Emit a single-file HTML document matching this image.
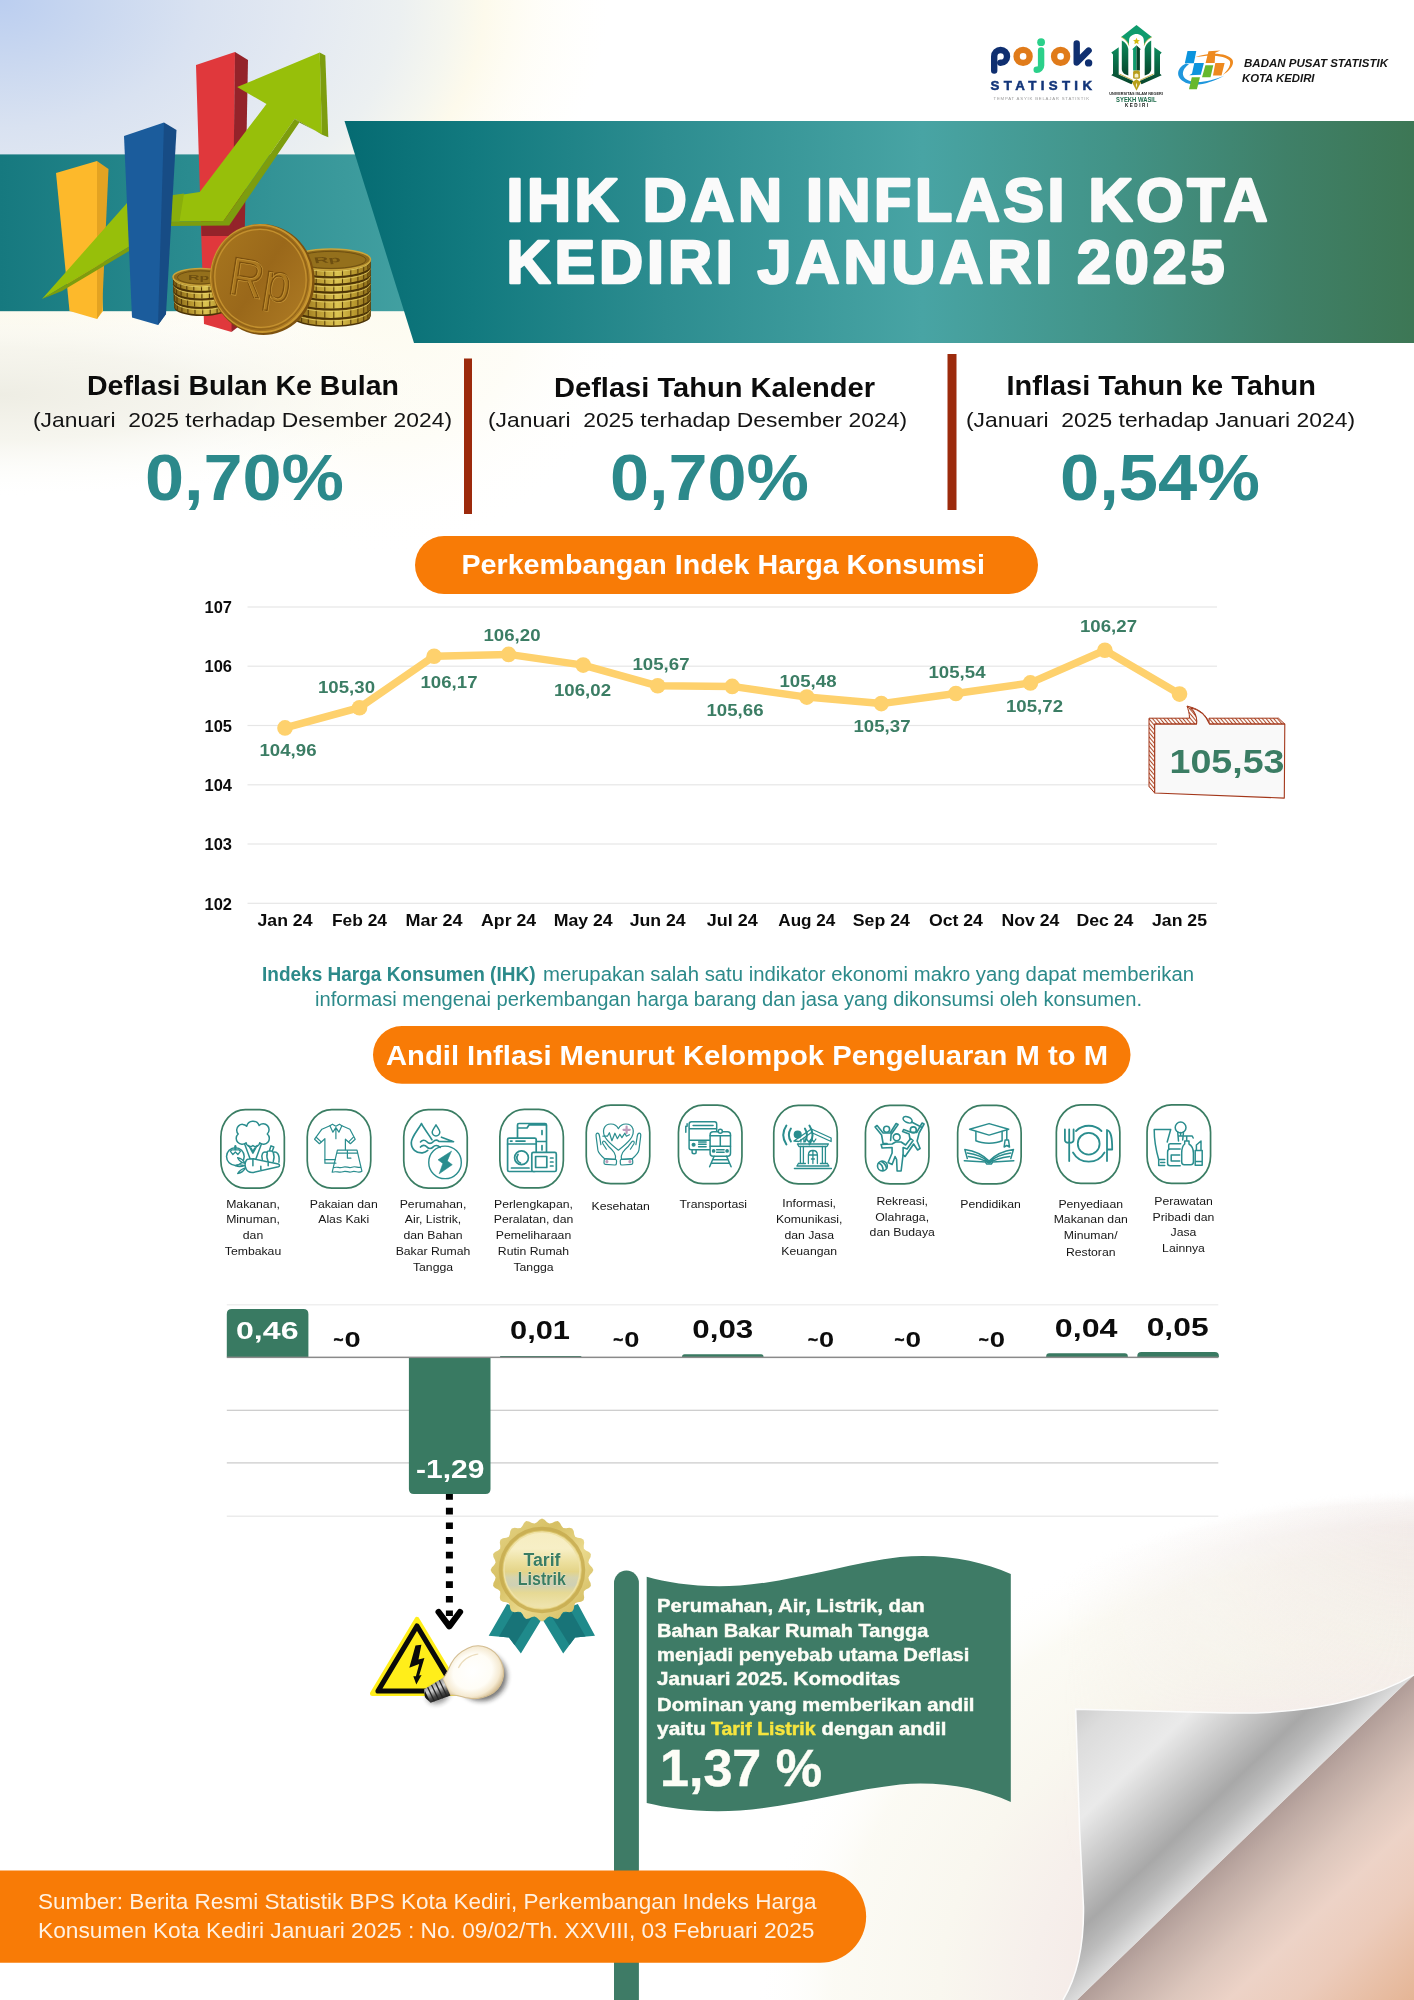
<!DOCTYPE html>
<html lang="id"><head><meta charset="utf-8"><title>IHK dan Inflasi Kota Kediri Januari 2025</title>
<style>
html,body{margin:0;padding:0;background:#fff;}
body{width:1414px;height:2000px;overflow:hidden;font-family:"Liberation Sans",sans-serif;}
svg{display:block;position:absolute;left:0;top:0;will-change:transform;}
text{font-family:"Liberation Sans",sans-serif;}
.b{font-weight:bold;}
</style></head><body>
<svg width="1414" height="2000" viewBox="0 0 1414 2000">
<defs>
  <radialGradient id="bgTL" cx="0" cy="0" r="610" gradientUnits="userSpaceOnUse" gradientTransform="scale(1 0.64)">
    <stop offset="0" stop-color="#bbcef0"/>
    <stop offset="0.164" stop-color="#cad8f0"/>
    <stop offset="0.328" stop-color="#d9e2f1"/>
    <stop offset="0.492" stop-color="#e3e9f2"/>
    <stop offset="0.656" stop-color="#ecf0f1"/>
    <stop offset="0.738" stop-color="#f5f6ef"/>
    <stop offset="0.795" stop-color="#fdfaec"/>
    <stop offset="0.885" stop-color="#fefcf2" stop-opacity="0.55"/>
    <stop offset="1" stop-color="#fffef8" stop-opacity="0"/>
  </radialGradient>
  <radialGradient id="bgCream" cx="380" cy="300" r="260" gradientUnits="userSpaceOnUse">
    <stop offset="0" stop-color="#fdfbee" stop-opacity="0.9"/>
    <stop offset="0.55" stop-color="#fdfbf0" stop-opacity="0.55"/>
    <stop offset="1" stop-color="#ffffff" stop-opacity="0"/>
  </radialGradient>
  <radialGradient id="bgLeft" cx="0" cy="395" r="100" gradientUnits="userSpaceOnUse" gradientTransform="translate(0 395) scale(4.6 1) translate(0 -395)">
    <stop offset="0" stop-color="#ebeadf" stop-opacity="0.85"/>
    <stop offset="0.45" stop-color="#f2f1e7" stop-opacity="0.7"/>
    <stop offset="1" stop-color="#fdfdf8" stop-opacity="0"/>
  </radialGradient>
</defs>
<rect width="1414" height="2000" fill="#ffffff"/>
<rect width="1414" height="700" fill="url(#bgCream)"/>
<rect width="1414" height="700" fill="url(#bgTL)"/>
<rect width="700" height="700" fill="url(#bgLeft)"/>

<defs>
  <radialGradient id="paperBlob" cx="1414" cy="2000" r="660" gradientUnits="userSpaceOnUse" gradientTransform="translate(1414 2000) scale(1 0.7727) translate(-1414 -2000)">
    <stop offset="0" stop-color="#f0dcd6"/>
    <stop offset="0.4" stop-color="#f3e7e4"/>
    <stop offset="0.58" stop-color="#f6efeb"/>
    <stop offset="0.72" stop-color="#f9f7ef"/>
    <stop offset="0.88" stop-color="#fbfaf3" stop-opacity="0.9"/>
    <stop offset="1" stop-color="#ffffff" stop-opacity="0"/>
  </radialGradient>
  <radialGradient id="paperRing" cx="1414" cy="2000" r="660" gradientUnits="userSpaceOnUse" gradientTransform="translate(1414 2000) scale(1 0.7727) translate(-1414 -2000)">
    <stop offset="0.55" stop-color="#e9dcd9" stop-opacity="0"/>
    <stop offset="0.8" stop-color="#eadedb" stop-opacity="0.4"/>
    <stop offset="0.93" stop-color="#ebe0dd" stop-opacity="0.62"/>
    <stop offset="0.975" stop-color="#eee5e2" stop-opacity="0.4"/>
    <stop offset="1" stop-color="#ffffff" stop-opacity="0"/>
  </radialGradient>
  <linearGradient id="ringMaskG" x1="1060" y1="0" x2="1414" y2="0" gradientUnits="userSpaceOnUse">
    <stop offset="0" stop-color="#000"/>
    <stop offset="0.45" stop-color="#666"/>
    <stop offset="1" stop-color="#fff"/>
  </linearGradient>
  <mask id="ringMask" maskUnits="userSpaceOnUse" x="700" y="1450" width="714" height="550"><rect x="700" y="1450" width="714" height="550" fill="url(#ringMaskG)"/></mask>
  <linearGradient id="curlG" x1="1075.700" y1="1709.200" x2="1221.600" y2="1860.500" gradientUnits="userSpaceOnUse">
    <stop offset="0" stop-color="#cdcdcd"/>
    <stop offset="0.12" stop-color="#dcdcdc"/>
    <stop offset="0.39" stop-color="#eaeaea"/>
    <stop offset="0.6" stop-color="#c6c6c6"/>
    <stop offset="0.77" stop-color="#a8a8a8"/>
    <stop offset="0.88" stop-color="#bcbcbc"/>
    <stop offset="1" stop-color="#dedede"/>
  </linearGradient>
  <linearGradient id="underG" x1="1245.500" y1="1837.500" x2="1407.900" y2="2006" gradientUnits="userSpaceOnUse">
    <stop offset="0" stop-color="#b09c97"/>
    <stop offset="0.1" stop-color="#c2aea7"/>
    <stop offset="0.28" stop-color="#dcc6bc"/>
    <stop offset="0.45" stop-color="#edd3c7"/>
    <stop offset="0.65" stop-color="#ecccbc"/>
    <stop offset="1" stop-color="#e5b595"/>
  </linearGradient>
  <filter id="blur8" x="-20%" y="-20%" width="140%" height="140%"><feGaussianBlur stdDeviation="8"/></filter>
  <filter id="blur3" x="-20%" y="-20%" width="140%" height="140%"><feGaussianBlur stdDeviation="2.500"/></filter>
</defs>
<g id="paper">
  <rect x="700" y="1450" width="714" height="550" fill="url(#paperBlob)"/>
  <rect x="700" y="1450" width="714" height="550" fill="url(#paperRing)" mask="url(#ringMask)"/>
  <!-- under curl -->
  <polygon points="1414,1675 1414,2000 1077,2000" fill="url(#underG)"/>
  <!-- curl -->
  <path d="M1075.700,1709.200 L1230,1713 C1300,1714 1365,1703 1414,1675 L1077,2000 L1063,2000 C1078,1975 1084,1945 1083.500,1907 L1079.600,1830 Z" fill="url(#curlG)"/>
  <path d="M1063,2000 C1078,1975 1084,1945 1083.500,1907 L1079.600,1830 L1075.700,1709.200 L1230,1713 C1300,1714 1365,1703 1414,1675" fill="none" stroke="#fcfcfc" stroke-width="1.500"/>
</g>
<defs>
  <linearGradient id="bandL" x1="0" y1="0" x2="420" y2="0" gradientUnits="userSpaceOnUse">
    <stop offset="0" stop-color="#16797f"/>
    <stop offset="0.45" stop-color="#2a8b8f"/>
    <stop offset="1" stop-color="#43a1a2"/>
  </linearGradient>
  <linearGradient id="bandR" x1="345" y1="0" x2="1414" y2="0" gradientUnits="userSpaceOnUse">
    <stop offset="0" stop-color="#056b72"/>
    <stop offset="0.12" stop-color="#127a7f"/>
    <stop offset="0.3" stop-color="#2d8d90"/>
    <stop offset="0.54" stop-color="#48a4a4"/>
    <stop offset="0.72" stop-color="#429387"/>
    <stop offset="0.88" stop-color="#3f8068"/>
    <stop offset="1" stop-color="#3d7755"/>
  </linearGradient>
  <linearGradient id="coinG" x1="0" y1="0" x2="1" y2="1">
    <stop offset="0" stop-color="#a9781f"/>
    <stop offset="0.5" stop-color="#9a681a"/>
    <stop offset="1" stop-color="#b07d25"/>
  </linearGradient>
  <linearGradient id="stackG" x1="0" y1="0" x2="1" y2="0">
    <stop offset="0" stop-color="#7a5a12"/>
    <stop offset="0.3" stop-color="#b6952e"/>
    <stop offset="0.58" stop-color="#dcc452"/>
    <stop offset="0.8" stop-color="#b8982e"/>
    <stop offset="1" stop-color="#8a6a18"/>
  </linearGradient>
</defs>
<!-- left band -->
<rect x="0" y="154.400" width="430" height="156.800" fill="url(#bandL)"/>
<!-- right trapezoid -->
<polygon points="344.5,121 1414,121 1414,343 414,343" fill="url(#bandR)"/>

<!-- illustration: bars, arrow, coins -->
<g id="illus">
  <!-- yellow bar -->
  <polygon points="56,173 97,161 103,311 97,319 69.5,311" fill="#fdb92b"/>
  <polygon points="97,161 108.5,169 102,311 97,319" fill="#e3a322"/>
  <!-- red bar -->
  <polygon points="196,65 235,52 233,324 231.5,332 204,324" fill="#e0383c"/>
  <polygon points="235,52 248,60 243,323 231.5,332" fill="#94232a"/>
  <polygon points="200.5,200 234,196 233.6,236 201.5,236" fill="#94232a"/>
  <!-- arrow -->
  <polygon points="42,299 127,203 199.700,192 266.500,104 237.100,87.100 319.700,52.400 322,134.600 294.800,118.800 223.500,221 171,221.500" fill="#97bf0a"/>
  <polygon points="42,299 171,221.500 223.500,221 294.800,118.800 299.300,122.600 229.200,225.500 171,226 62,291" fill="#7d9d0e"/>
  <polygon points="319.700,52.400 325.300,55.400 328.300,137.300 322,134.600" fill="#7d9d0e"/>
  <polygon points="294.800,118.800 322,134.600 328.300,137.300 299.300,122.600" fill="#6f8d0c"/>
  <polygon points="166,196 184,193.600 179.500,221.400 166,221.500" fill="#89ae0c"/>
  <!-- blue bar -->
  <polygon points="124,136 164,122.5 166,314 158,325 132,317.5" fill="#1b5c9c"/>
  <polygon points="164,122.5 176.5,130 166,314 158,325" fill="#174c85"/>
</g>

<g id="coins">
<path d="M291.5,309.0 A39.5,10.5 0 0 0 370.5,309.0 L370.5,316.6 A39.5,10.5 0 0 1 291.5,316.6 Z" fill="#4a3206"/>
<path d="M291.5,309.0 A39.5,10.5 0 0 0 370.5,309.0 L370.5,315.0 A39.5,10.5 0 0 1 291.5,315.0 Z" fill="url(#stackG)"/>
<path d="M370.1,311.1v5.4 M367.9,313.4v5.4 M363.7,315.5v5.4 M357.9,317.3v5.4 M350.8,318.7v5.4 M342.5,319.6v5.4 M333.8,320.1v5.4 M324.8,320.0v5.4 M316.2,319.3v5.4 M308.3,318.2v5.4 M301.6,316.6v5.4 M296.5,314.7v5.4 M293.0,312.5v5.4 M291.6,310.1v5.4" stroke="#5a3f0a" stroke-width="1.100" fill="none"/>
<path d="M291.5,309.0 A39.5,10.5 0 0 0 370.5,309.0" fill="none" stroke="#6b4d0e" stroke-width="1.300"/>
<path d="M292.0,310.3 A39.0,10.5 0 0 0 370.0,310.3" fill="none" stroke="#e9d36c" stroke-width="0.900" opacity="0.85"/>
<path d="M291.5,299.6 A39.5,10.5 0 0 0 370.5,299.6 L370.5,309.0 A39.5,10.5 0 0 1 291.5,309.0 Z" fill="#4a3206"/>
<path d="M291.5,299.6 A39.5,10.5 0 0 0 370.5,299.6 L370.5,307.4 A39.5,10.5 0 0 1 291.5,307.4 Z" fill="url(#stackG)"/>
<path d="M370.1,301.7v7.2 M367.9,304.0v7.2 M363.7,306.1v7.2 M357.9,307.9v7.2 M350.8,309.3v7.2 M342.5,310.2v7.2 M333.8,310.7v7.2 M324.8,310.6v7.2 M316.2,309.9v7.2 M308.3,308.8v7.2 M301.6,307.2v7.2 M296.5,305.3v7.2 M293.0,303.1v7.2 M291.6,300.7v7.2" stroke="#5a3f0a" stroke-width="1.100" fill="none"/>
<path d="M291.5,299.6 A39.5,10.5 0 0 0 370.5,299.6" fill="none" stroke="#6b4d0e" stroke-width="1.300"/>
<path d="M292.0,300.9 A39.0,10.5 0 0 0 370.0,300.9" fill="none" stroke="#e9d36c" stroke-width="0.900" opacity="0.85"/>
<path d="M291.5,290.3 A39.5,10.5 0 0 0 370.5,290.3 L370.5,299.6 A39.5,10.5 0 0 1 291.5,299.6 Z" fill="#4a3206"/>
<path d="M291.5,290.3 A39.5,10.5 0 0 0 370.5,290.3 L370.5,298.0 A39.5,10.5 0 0 1 291.5,298.0 Z" fill="url(#stackG)"/>
<path d="M370.1,292.4v7.1 M367.9,294.7v7.1 M363.7,296.8v7.1 M357.9,298.6v7.1 M350.8,300.0v7.1 M342.5,300.9v7.1 M333.8,301.4v7.1 M324.8,301.3v7.1 M316.2,300.6v7.1 M308.3,299.5v7.1 M301.6,297.9v7.1 M296.5,296.0v7.1 M293.0,293.8v7.1 M291.6,291.4v7.1" stroke="#5a3f0a" stroke-width="1.100" fill="none"/>
<path d="M291.5,290.3 A39.5,10.5 0 0 0 370.5,290.3" fill="none" stroke="#6b4d0e" stroke-width="1.300"/>
<path d="M292.0,291.6 A39.0,10.5 0 0 0 370.0,291.6" fill="none" stroke="#e9d36c" stroke-width="0.900" opacity="0.85"/>
<path d="M291.5,282.7 A39.5,10.5 0 0 0 370.5,282.7 L370.5,290.3 A39.5,10.5 0 0 1 291.5,290.3 Z" fill="#4a3206"/>
<path d="M291.5,282.7 A39.5,10.5 0 0 0 370.5,282.7 L370.5,288.7 A39.5,10.5 0 0 1 291.5,288.7 Z" fill="url(#stackG)"/>
<path d="M370.1,284.8v5.4 M367.9,287.1v5.4 M363.7,289.2v5.4 M357.9,291.0v5.4 M350.8,292.4v5.4 M342.5,293.3v5.4 M333.8,293.8v5.4 M324.8,293.7v5.4 M316.2,293.0v5.4 M308.3,291.9v5.4 M301.6,290.3v5.4 M296.5,288.4v5.4 M293.0,286.2v5.4 M291.6,283.8v5.4" stroke="#5a3f0a" stroke-width="1.100" fill="none"/>
<path d="M291.5,282.7 A39.5,10.5 0 0 0 370.5,282.7" fill="none" stroke="#6b4d0e" stroke-width="1.300"/>
<path d="M292.0,284.0 A39.0,10.5 0 0 0 370.0,284.0" fill="none" stroke="#e9d36c" stroke-width="0.900" opacity="0.85"/>
<path d="M291.5,275.0 A39.5,10.5 0 0 0 370.5,275.0 L370.5,282.7 A39.5,10.5 0 0 1 291.5,282.7 Z" fill="#4a3206"/>
<path d="M291.5,275.0 A39.5,10.5 0 0 0 370.5,275.0 L370.5,281.1 A39.5,10.5 0 0 1 291.5,281.1 Z" fill="url(#stackG)"/>
<path d="M370.1,277.1v5.5 M367.9,279.4v5.5 M363.7,281.5v5.5 M357.9,283.3v5.5 M350.8,284.7v5.5 M342.5,285.6v5.5 M333.8,286.1v5.5 M324.8,286.0v5.5 M316.2,285.3v5.5 M308.3,284.2v5.5 M301.6,282.6v5.5 M296.5,280.7v5.5 M293.0,278.5v5.5 M291.6,276.1v5.5" stroke="#5a3f0a" stroke-width="1.100" fill="none"/>
<path d="M291.5,275.0 A39.5,10.5 0 0 0 370.5,275.0" fill="none" stroke="#6b4d0e" stroke-width="1.300"/>
<path d="M292.0,276.3 A39.0,10.5 0 0 0 370.0,276.3" fill="none" stroke="#e9d36c" stroke-width="0.900" opacity="0.85"/>
<path d="M291.5,267.4 A39.5,10.5 0 0 0 370.5,267.4 L370.5,275.0 A39.5,10.5 0 0 1 291.5,275.0 Z" fill="#4a3206"/>
<path d="M291.5,267.4 A39.5,10.5 0 0 0 370.5,267.4 L370.5,273.4 A39.5,10.5 0 0 1 291.5,273.4 Z" fill="url(#stackG)"/>
<path d="M370.1,269.5v5.4 M367.9,271.8v5.4 M363.7,273.9v5.4 M357.9,275.7v5.4 M350.8,277.1v5.4 M342.5,278.0v5.4 M333.8,278.5v5.4 M324.8,278.4v5.4 M316.2,277.7v5.4 M308.3,276.6v5.4 M301.6,275.0v5.4 M296.5,273.1v5.4 M293.0,270.9v5.4 M291.6,268.5v5.4" stroke="#5a3f0a" stroke-width="1.100" fill="none"/>
<path d="M291.5,267.4 A39.5,10.5 0 0 0 370.5,267.4" fill="none" stroke="#6b4d0e" stroke-width="1.300"/>
<path d="M292.0,268.7 A39.0,10.5 0 0 0 370.0,268.7" fill="none" stroke="#e9d36c" stroke-width="0.900" opacity="0.85"/>
<path d="M291.5,259.5 A39.5,10.5 0 0 0 370.5,259.5 L370.5,267.4 A39.5,10.5 0 0 1 291.5,267.4 Z" fill="#4a3206"/>
<path d="M291.5,259.5 A39.5,10.5 0 0 0 370.5,259.5 L370.5,265.8 A39.5,10.5 0 0 1 291.5,265.8 Z" fill="url(#stackG)"/>
<path d="M370.1,261.6v5.7 M367.9,263.9v5.7 M363.7,266.0v5.7 M357.9,267.8v5.7 M350.8,269.2v5.7 M342.5,270.1v5.7 M333.8,270.6v5.7 M324.8,270.5v5.7 M316.2,269.8v5.7 M308.3,268.7v5.7 M301.6,267.1v5.7 M296.5,265.2v5.7 M293.0,263.0v5.7 M291.6,260.6v5.7" stroke="#5a3f0a" stroke-width="1.100" fill="none"/>
<path d="M291.5,259.5 A39.5,10.5 0 0 0 370.5,259.5" fill="none" stroke="#6b4d0e" stroke-width="1.300"/>
<path d="M292.0,260.8 A39.0,10.5 0 0 0 370.0,260.8" fill="none" stroke="#e9d36c" stroke-width="0.900" opacity="0.85"/>
<ellipse cx="331" cy="259.5" rx="39.5" ry="10.5" fill="#8f6a1a" stroke="#c9a53c" stroke-width="1.500"/>
<ellipse cx="331" cy="259.9" rx="35.0" ry="8.5" fill="#94701c" stroke="#6b4d10" stroke-width="0.900"/>
<text x="314" y="266" font-size="20" font-weight="bold" fill="#6e4f10" transform="translate(331 260) scale(1 0.42) translate(-331 -260) rotate(-6 331 260)">Rp</text>
<path d="M174.2,300.0 A27.5,8.5 0 0 0 229.2,300.0 L229.2,307.6 A27.5,8.5 0 0 1 174.2,307.6 Z" fill="#4a3206"/>
<path d="M174.2,300.0 A27.5,8.5 0 0 0 229.2,300.0 L229.2,306.0 A27.5,8.5 0 0 1 174.2,306.0 Z" fill="url(#stackG)"/>
<path d="M228.9,301.8v5.4 M226.8,304.1v5.4 M222.8,306.1v5.4 M217.1,307.6v5.4 M210.2,308.7v5.4 M202.7,309.1v5.4 M195.0,308.8v5.4 M187.9,308.0v5.4 M181.9,306.5v5.4 M177.4,304.6v5.4 M174.8,302.4v5.4" stroke="#5a3f0a" stroke-width="1.100" fill="none"/>
<path d="M174.2,300.0 A27.5,8.5 0 0 0 229.2,300.0" fill="none" stroke="#6b4d0e" stroke-width="1.300"/>
<path d="M174.7,301.3 A27.0,8.5 0 0 0 228.7,301.3" fill="none" stroke="#e9d36c" stroke-width="0.900" opacity="0.85"/>
<path d="M173.8,291.5 A27.5,8.5 0 0 0 228.8,291.5 L228.8,300.0 A27.5,8.5 0 0 1 173.8,300.0 Z" fill="#4a3206"/>
<path d="M173.8,291.5 A27.5,8.5 0 0 0 228.8,291.5 L228.8,298.4 A27.5,8.5 0 0 1 173.8,298.4 Z" fill="url(#stackG)"/>
<path d="M228.5,293.3v6.3 M226.4,295.6v6.3 M222.4,297.6v6.3 M216.7,299.1v6.3 M209.8,300.2v6.3 M202.3,300.6v6.3 M194.6,300.3v6.3 M187.6,299.5v6.3 M181.5,298.0v6.3 M177.0,296.1v6.3 M174.4,293.9v6.3" stroke="#5a3f0a" stroke-width="1.100" fill="none"/>
<path d="M173.8,291.5 A27.5,8.5 0 0 0 228.8,291.5" fill="none" stroke="#6b4d0e" stroke-width="1.300"/>
<path d="M174.3,292.8 A27.0,8.5 0 0 0 228.3,292.8" fill="none" stroke="#e9d36c" stroke-width="0.900" opacity="0.85"/>
<path d="M173.4,283.9 A27.5,8.5 0 0 0 228.4,283.9 L228.4,291.5 A27.5,8.5 0 0 1 173.4,291.5 Z" fill="#4a3206"/>
<path d="M173.4,283.9 A27.5,8.5 0 0 0 228.4,283.9 L228.4,289.9 A27.5,8.5 0 0 1 173.4,289.9 Z" fill="url(#stackG)"/>
<path d="M228.1,285.7v5.4 M226.0,288.0v5.4 M222.0,290.0v5.4 M216.3,291.5v5.4 M209.4,292.6v5.4 M201.9,293.0v5.4 M194.2,292.7v5.4 M187.2,291.9v5.4 M181.1,290.4v5.4 M176.6,288.5v5.4 M174.0,286.3v5.4" stroke="#5a3f0a" stroke-width="1.100" fill="none"/>
<path d="M173.4,283.9 A27.5,8.5 0 0 0 228.4,283.9" fill="none" stroke="#6b4d0e" stroke-width="1.300"/>
<path d="M173.9,285.2 A27.0,8.5 0 0 0 227.9,285.2" fill="none" stroke="#e9d36c" stroke-width="0.900" opacity="0.85"/>
<path d="M173.0,277.0 A27.5,8.5 0 0 0 228.0,277.0 L228.0,283.9 A27.5,8.5 0 0 1 173.0,283.9 Z" fill="#4a3206"/>
<path d="M173.0,277.0 A27.5,8.5 0 0 0 228.0,277.0 L228.0,282.3 A27.5,8.5 0 0 1 173.0,282.3 Z" fill="url(#stackG)"/>
<path d="M227.7,278.8v4.7 M225.6,281.1v4.7 M221.6,283.1v4.7 M215.9,284.6v4.7 M209.0,285.7v4.7 M201.5,286.1v4.7 M193.8,285.8v4.7 M186.8,285.0v4.7 M180.7,283.5v4.7 M176.2,281.6v4.7 M173.6,279.4v4.7" stroke="#5a3f0a" stroke-width="1.100" fill="none"/>
<path d="M173.0,277.0 A27.5,8.5 0 0 0 228.0,277.0" fill="none" stroke="#6b4d0e" stroke-width="1.300"/>
<path d="M173.5,278.3 A27.0,8.5 0 0 0 227.5,278.3" fill="none" stroke="#e9d36c" stroke-width="0.900" opacity="0.85"/>
<ellipse cx="200.5" cy="277" rx="27.5" ry="8.5" fill="#8f6a1a" stroke="#c9a53c" stroke-width="1.500"/>
<ellipse cx="200.5" cy="277.4" rx="23.0" ry="6.5" fill="#94701c" stroke="#6b4d10" stroke-width="0.900"/>
<text x="188" y="283" font-size="16" font-weight="bold" fill="#6e4f10" transform="translate(200 277) scale(1 0.42) translate(-200 -277)">Rp</text>
<ellipse cx="262.300" cy="279.500" rx="52.200" ry="55.600" fill="#7d5210" transform="rotate(-10 262 279)"/>
<ellipse cx="261.200" cy="278.600" rx="51" ry="54.600" fill="#c8962f" transform="rotate(-10 261 279)"/>
<ellipse cx="260.600" cy="278.300" rx="49.200" ry="52.800" fill="url(#coinG)" transform="rotate(-10 261 279)"/>
<ellipse cx="260.600" cy="278.300" rx="45.500" ry="49" fill="none" stroke="#c4912f" stroke-width="1.300" transform="rotate(-10 261 279)"/>
<ellipse cx="260.600" cy="278.300" rx="47.500" ry="51" fill="none" stroke="#8a5d14" stroke-width="0.800" transform="rotate(-10 261 279)"/>
<g transform="rotate(9 260 280)"><text x="229" y="298" font-size="53" fill="#a9771f" stroke="#7a4f0e" stroke-width="1.400" textLength="62" lengthAdjust="spacingAndGlyphs">Rp</text>
<text x="230.200" y="299" font-size="53" fill="none" stroke="#c9983a" stroke-width="0.600" textLength="62" lengthAdjust="spacingAndGlyphs">Rp</text></g>
</g>
<!-- title -->
<g fill="#fafafa" font-weight="bold" stroke="#fafafa" stroke-width="2.600" stroke-linejoin="round">
  <text x="506.500" y="220.800" font-size="61" textLength="761" lengthAdjust="spacing">IHK DAN INFLASI KOTA</text>
  <text x="506.500" y="282.800" font-size="61" textLength="718" lengthAdjust="spacing">KEDIRI JANUARI 2025</text>
</g>

<g id="logos">
  <!-- pojok statistik -->
  <g fill="none" stroke-linecap="round" stroke-width="6.400">
    <path d="M994.200,70.500 V56.400 A6.400,6.400 0 1 1 1000.600,62.800" stroke="#0f2f70"/>
    <circle cx="1023.100" cy="56.400" r="6.500" stroke="#e07b1a"/>
    <path d="M1041.100,50.500 V65.400 A4.400,4.400 0 0 1 1036.700,69.800" stroke="#2bd08a"/>
    <circle cx="1060.600" cy="56.400" r="6.500" stroke="#e07b1a"/>
    <path d="M1076.700,43.400 V62.600 L1088.600,50.600" stroke="#0f2f70" stroke-linejoin="round"/>
  </g>
  <circle cx="1041.100" cy="42.200" r="3.900" fill="#2bd08a"/>
  <circle cx="1088.600" cy="62.900" r="3.700" fill="#0f2f70"/>
  <text x="990.500" y="89.700" font-size="13.300" font-weight="bold" fill="#12357a" stroke="#12357a" stroke-width="0.500" textLength="101.5" lengthAdjust="spacing">STATISTIK</text>
  <text x="993.5" y="99.5" font-size="4.3" fill="#9a9a9a" textLength="95.5" lengthAdjust="spacing">TEMPAT ASYIK BELAJAR STATISTIK</text>

  <!-- UIN Syekh Wasil -->
  <defs>
    <linearGradient id="uinV" x1="0" y1="0" x2="0" y2="1"><stop offset="0" stop-color="#0c8a5c"/><stop offset="1" stop-color="#07452c"/></linearGradient>
  </defs>
  <g>
    <!-- roof -->
    <path d="M1136.500,25.100 L1151.800,37 C1147.500,39 1145,42 1144.100,45.500 L1143.800,40 C1143.800,36.500 1140,34.100 1136.500,34.100 C1133,34.100 1129.100,36.500 1129.100,40 L1128.900,45.500 C1128,42 1125.500,39 1121.200,37 Z" fill="#0f9b6d"/>
    <path d="M1151.800,37 C1147.500,39 1145,42 1144.100,45.500 M1121.200,37 C1125.500,39 1128,42 1128.900,45.500" fill="none" stroke="#cdb531" stroke-width="0.700"/>
    <!-- inner pillars -->
    <path d="M1121.800,40.400 C1125.500,42 1127.500,45 1128.300,49 L1128.300,75.400 C1124.500,74.500 1121.800,72.500 1121.800,69 Z" fill="url(#uinV)"/>
    <path d="M1151.200,40.400 C1147.500,42 1145.500,45 1144.700,49 L1144.700,75.400 C1148.500,74.500 1151.200,72.500 1151.200,69 Z" fill="url(#uinV)"/>
    <!-- outer pillars + V -->
    <path d="M1111.300,52.500 L1118.700,47.200 L1118.700,74.500 L1133.300,81 L1131.500,84.300 L1111.300,75.200 L1113,73.800 L1113,54.500 Z" fill="url(#uinV)"/>
    <path d="M1161.700,52.500 L1154.300,47.200 L1154.300,74.500 L1139.700,81 L1141.500,84.300 L1161.700,75.200 L1160,73.800 L1160,54.500 Z" fill="url(#uinV)"/>
    <path d="M1119.500,74 L1132.800,80.300 M1153.500,74 L1140.200,80.300" stroke="#b59a1a" stroke-width="0.800" fill="none"/>
    <!-- central pillar -->
    <path d="M1136.500,45.200 L1132,49.400 L1133.100,49.400 L1133.100,70.400 L1136.500,70.400 Z" fill="#0f9b6d"/>
    <path d="M1136.500,45.200 L1141,49.400 L1139.900,49.400 L1139.900,70.400 L1136.500,70.400 Z" fill="#07452c"/>
    <!-- badge + nib -->
    <rect x="1133.100" y="70.600" width="6.800" height="8.200" rx="1.600" fill="#b79c1a"/>
    <path d="M1134.600,77.500 V74.500 Q1136.500,72.300 1138.400,74.500 V77.500 Z" fill="#f4eeca"/>
    <path d="M1136.500,79.200 L1141,82.200 L1136.500,90.700 L1132,82.200 Z" fill="#b8a018"/>
    <path d="M1136.500,82.500 L1137.200,85 L1136.500,88 L1135.800,85 Z" fill="#f4eeca"/>
    <!-- star -->
    <path d="M1136.500,37.700 l1,2.200 2.400,0.300 -1.800,1.600 0.500,2.400 -2.100,-1.200 -2.100,1.200 0.500,-2.400 -1.800,-1.600 2.400,-0.300 z" fill="#d4b90e"/>
  </g>
  <text x="1109.300" y="95.200" font-size="4" font-weight="bold" fill="#222" textLength="53.500" lengthAdjust="spacingAndGlyphs">UNIVERSITAS ISLAM NEGERI</text>
  <text x="1116.100" y="101.800" font-size="7.500" font-weight="bold" fill="#1d6b4a" textLength="40.500" lengthAdjust="spacingAndGlyphs">SYEKH WASIL</text>
  <text x="1124.900" y="106.800" font-size="4.600" font-weight="bold" fill="#111" textLength="23.200" lengthAdjust="spacing">KEDIRI</text>

  <!-- BPS -->
  <g>
    <path d="M1186,63.500 C1175.500,68.500 1175,79 1188,83.600 C1198,86.800 1212,82.500 1224.500,75.500 C1212,80.800 1199,83.800 1190,81 C1180,77.500 1181.500,69.500 1189,64.200 Z" fill="#1f97dd"/>
    <path d="M1195,57.300 C1208,52 1228,52.300 1232.600,60 C1234.700,65 1229,71.500 1222.500,75 C1228,70 1231.300,65 1229.800,61 C1226,55.200 1208,54.400 1195,57.300 Z" fill="#ee8a1f"/>
    <polygon points="1187.500,51 1196.300,51 1193.800,63.200 1184.800,63.200" fill="#0c94dd"/>
    <polygon points="1194.300,62.900 1203.900,62.900 1200.800,74.800 1189.300,75.300 1192,73.500" fill="#0c94dd"/>
    <polygon points="1208.500,51.300 1220.300,50.600 1215.300,52.700 1214.700,62.900 1205.600,62.900" fill="#ee8a1f"/>
    <polygon points="1215.300,62.900 1224.600,62.900 1221.500,75.400 1213,75.400" fill="#ee8a1f"/>
    <polygon points="1205.400,65.200 1213.300,65.200 1210.500,77.300 1202,77.300" fill="#67b82e"/>
    <polygon points="1191.800,77.300 1200,77.300 1196.900,89.200 1189,89.200" fill="#67b82e"/>
  </g>
  <text x="1244" y="67.100" font-size="11" font-weight="bold" font-style="italic" fill="#151515" textLength="144" lengthAdjust="spacingAndGlyphs">BADAN PUSAT STATISTIK</text>
  <text x="1242" y="81.600" font-size="11" font-weight="bold" font-style="italic" fill="#151515" textLength="72.500" lengthAdjust="spacingAndGlyphs">KOTA KEDIRI</text>
</g>

<g id="stats">
  <rect x="464" y="358.500" width="8" height="155.500" fill="#9c2a0c"/>
  <rect x="947.500" y="354" width="9" height="156" fill="#9c2a0c"/>
  <g font-weight="bold" fill="#0c0c0c" font-size="27.500">
    <text x="87" y="395.300" textLength="312" lengthAdjust="spacingAndGlyphs">Deflasi Bulan Ke Bulan</text>
    <text x="554" y="397" textLength="321" lengthAdjust="spacingAndGlyphs">Deflasi Tahun Kalender</text>
    <text x="1006.500" y="395.300" textLength="309.500" lengthAdjust="spacingAndGlyphs">Inflasi Tahun ke Tahun</text>
  </g>
  <g fill="#141414" font-size="21">
    <text xml:space="preserve" x="33" y="427.200" textLength="419" lengthAdjust="spacingAndGlyphs">(Januari  2025 terhadap Desember 2024)</text>
    <text xml:space="preserve" x="488" y="427.200" textLength="419" lengthAdjust="spacingAndGlyphs">(Januari  2025 terhadap Desember 2024)</text>
    <text xml:space="preserve" x="966" y="427.200" textLength="389" lengthAdjust="spacingAndGlyphs">(Januari  2025 terhadap Januari 2024)</text>
  </g>
  <g font-weight="bold" fill="#2c898b" font-size="65">
    <text x="145" y="500.200" textLength="199" lengthAdjust="spacingAndGlyphs">0,70%</text>
    <text x="610" y="500.200" textLength="199" lengthAdjust="spacingAndGlyphs">0,70%</text>
    <text x="1060" y="500.200" textLength="200" lengthAdjust="spacingAndGlyphs">0,54%</text>
  </g>
</g>

<g id="linechart">
<rect x="415" y="536" width="623" height="58" rx="29" fill="#f87b06"/>
<text x="461.500" y="574" font-size="28" font-weight="bold" fill="#ffffff" textLength="523.500" lengthAdjust="spacingAndGlyphs">Perkembangan Indek Harga Konsumsi</text>
<rect x="247.500" y="606.4" width="969.500" height="1.200" fill="#e6e6e6"/>
<text x="204.500" y="613.2" font-size="17" font-weight="bold" fill="#0c0c0c" textLength="27.500" lengthAdjust="spacingAndGlyphs">107</text>
<rect x="247.500" y="665.6" width="969.500" height="1.200" fill="#e6e6e6"/>
<text x="204.500" y="672.4" font-size="17" font-weight="bold" fill="#0c0c0c" textLength="27.500" lengthAdjust="spacingAndGlyphs">106</text>
<rect x="247.500" y="724.9" width="969.500" height="1.200" fill="#e6e6e6"/>
<text x="204.500" y="731.7" font-size="17" font-weight="bold" fill="#0c0c0c" textLength="27.500" lengthAdjust="spacingAndGlyphs">105</text>
<rect x="247.500" y="784.2" width="969.500" height="1.200" fill="#e6e6e6"/>
<text x="204.500" y="791.0" font-size="17" font-weight="bold" fill="#0c0c0c" textLength="27.500" lengthAdjust="spacingAndGlyphs">104</text>
<rect x="247.500" y="843.4" width="969.500" height="1.200" fill="#e6e6e6"/>
<text x="204.500" y="850.2" font-size="17" font-weight="bold" fill="#0c0c0c" textLength="27.500" lengthAdjust="spacingAndGlyphs">103</text>
<rect x="247.500" y="902.7" width="969.500" height="1.200" fill="#e6e6e6"/>
<text x="204.500" y="909.5" font-size="17" font-weight="bold" fill="#0c0c0c" textLength="27.500" lengthAdjust="spacingAndGlyphs">102</text>
<text x="257.5" y="926" font-size="17" font-weight="bold" fill="#0c0c0c" textLength="55" lengthAdjust="spacingAndGlyphs">Jan 24</text>
<text x="332.0" y="926" font-size="17" font-weight="bold" fill="#0c0c0c" textLength="55" lengthAdjust="spacingAndGlyphs">Feb 24</text>
<text x="405.6" y="926" font-size="17" font-weight="bold" fill="#0c0c0c" textLength="57" lengthAdjust="spacingAndGlyphs">Mar 24</text>
<text x="481.1" y="926" font-size="17" font-weight="bold" fill="#0c0c0c" textLength="55" lengthAdjust="spacingAndGlyphs">Apr 24</text>
<text x="553.7" y="926" font-size="17" font-weight="bold" fill="#0c0c0c" textLength="59" lengthAdjust="spacingAndGlyphs">May 24</text>
<text x="629.7" y="926" font-size="17" font-weight="bold" fill="#0c0c0c" textLength="56" lengthAdjust="spacingAndGlyphs">Jun 24</text>
<text x="706.7" y="926" font-size="17" font-weight="bold" fill="#0c0c0c" textLength="51" lengthAdjust="spacingAndGlyphs">Jul 24</text>
<text x="778.3" y="926" font-size="17" font-weight="bold" fill="#0c0c0c" textLength="57" lengthAdjust="spacingAndGlyphs">Aug 24</text>
<text x="852.8" y="926" font-size="17" font-weight="bold" fill="#0c0c0c" textLength="57" lengthAdjust="spacingAndGlyphs">Sep 24</text>
<text x="928.9" y="926" font-size="17" font-weight="bold" fill="#0c0c0c" textLength="54" lengthAdjust="spacingAndGlyphs">Oct 24</text>
<text x="1001.4" y="926" font-size="17" font-weight="bold" fill="#0c0c0c" textLength="58" lengthAdjust="spacingAndGlyphs">Nov 24</text>
<text x="1076.4" y="926" font-size="17" font-weight="bold" fill="#0c0c0c" textLength="57" lengthAdjust="spacingAndGlyphs">Dec 24</text>
<text x="1152.0" y="926" font-size="17" font-weight="bold" fill="#0c0c0c" textLength="55" lengthAdjust="spacingAndGlyphs">Jan 25</text>
<polyline points="285.0,727.9 359.5,707.7 434.1,656.2 508.6,654.4 583.2,665.1 657.7,685.8 732.2,686.4 806.8,697.1 881.3,703.6 955.9,693.5 1030.4,682.9 1104.9,650.3 1179.5,694.1" fill="none" stroke="#fed16d" stroke-width="7.500" stroke-linejoin="round" stroke-linecap="round"/>
<circle cx="285.0" cy="727.9" r="7.800" fill="#fed16d"/>
<circle cx="359.5" cy="707.7" r="7.800" fill="#fed16d"/>
<circle cx="434.1" cy="656.2" r="7.800" fill="#fed16d"/>
<circle cx="508.6" cy="654.4" r="7.800" fill="#fed16d"/>
<circle cx="583.2" cy="665.1" r="7.800" fill="#fed16d"/>
<circle cx="657.7" cy="685.8" r="7.800" fill="#fed16d"/>
<circle cx="732.2" cy="686.4" r="7.800" fill="#fed16d"/>
<circle cx="806.8" cy="697.1" r="7.800" fill="#fed16d"/>
<circle cx="881.3" cy="703.6" r="7.800" fill="#fed16d"/>
<circle cx="955.9" cy="693.5" r="7.800" fill="#fed16d"/>
<circle cx="1030.4" cy="682.9" r="7.800" fill="#fed16d"/>
<circle cx="1104.9" cy="650.3" r="7.800" fill="#fed16d"/>
<circle cx="1179.5" cy="694.1" r="7.800" fill="#fed16d"/>
<text x="259.5" y="756.1" font-size="17" font-weight="bold" fill="#3b7d64" textLength="57" lengthAdjust="spacingAndGlyphs">104,96</text>
<text x="318.0" y="692.6" font-size="17" font-weight="bold" fill="#3b7d64" textLength="57" lengthAdjust="spacingAndGlyphs">105,30</text>
<text x="420.5" y="687.6" font-size="17" font-weight="bold" fill="#3b7d64" textLength="57" lengthAdjust="spacingAndGlyphs">106,17</text>
<text x="483.5" y="640.6" font-size="17" font-weight="bold" fill="#3b7d64" textLength="57" lengthAdjust="spacingAndGlyphs">106,20</text>
<text x="554.0" y="695.6" font-size="17" font-weight="bold" fill="#3b7d64" textLength="57" lengthAdjust="spacingAndGlyphs">106,02</text>
<text x="632.5" y="670.1" font-size="17" font-weight="bold" fill="#3b7d64" textLength="57" lengthAdjust="spacingAndGlyphs">105,67</text>
<text x="706.5" y="716.1" font-size="17" font-weight="bold" fill="#3b7d64" textLength="57" lengthAdjust="spacingAndGlyphs">105,66</text>
<text x="779.5" y="687.1" font-size="17" font-weight="bold" fill="#3b7d64" textLength="57" lengthAdjust="spacingAndGlyphs">105,48</text>
<text x="853.5" y="732.1" font-size="17" font-weight="bold" fill="#3b7d64" textLength="57" lengthAdjust="spacingAndGlyphs">105,37</text>
<text x="928.5" y="678.1" font-size="17" font-weight="bold" fill="#3b7d64" textLength="57" lengthAdjust="spacingAndGlyphs">105,54</text>
<text x="1006.0" y="712.1" font-size="17" font-weight="bold" fill="#3b7d64" textLength="57" lengthAdjust="spacingAndGlyphs">105,72</text>
<text x="1080.0" y="632.1" font-size="17" font-weight="bold" fill="#3b7d64" textLength="57" lengthAdjust="spacingAndGlyphs">106,27</text>
</g>
<defs>
  <pattern id="hatch" width="2.900" height="2.900" patternUnits="userSpaceOnUse" patternTransform="rotate(-40)">
    <rect width="2.900" height="2.900" fill="#fdf8f5"/>
    <rect width="1" height="2.900" fill="#ad4a2a"/>
  </pattern>
</defs>
<g id="callout">
  <!-- extrusion -->
  <path d="M1149,718.200 L1189.500,718.200 C1189.500,713 1188,709 1187,706 L1192,707.500 C1200,710 1206,715 1209,722.400 L1209,718.200 L1278.500,718.200 L1284.800,724.100 L1154.700,724.100 L1154.700,793 L1149,786.500 Z" fill="url(#hatch)" stroke="#a3371a" stroke-width="1"/>
  <!-- front face -->
  <path d="M1154.700,724.100 L1196.500,724.100 C1197.500,718 1195,712 1190.500,707.800 C1199,709.500 1206,715.500 1209.500,724.100 L1284.800,724.100 L1284.300,798.100 L1154.700,793 Z" fill="#f9f9f9" stroke="#a3371a" stroke-width="1.100" stroke-linejoin="round"/>
  <text x="1169.500" y="773.400" font-size="34" font-weight="bold" fill="#3b7d64" textLength="115" lengthAdjust="spacingAndGlyphs">105,53</text>
</g>

<g id="para" fill="#2c8a8a" font-size="20">
  <text x="262" y="981.100" font-weight="bold" textLength="273.500" lengthAdjust="spacingAndGlyphs">Indeks Harga Konsumen (IHK)</text>
  <text x="543" y="981.100" textLength="651" lengthAdjust="spacingAndGlyphs">merupakan salah satu indikator ekonomi makro yang dapat memberikan</text>
  <text x="315" y="1005.900" textLength="827" lengthAdjust="spacingAndGlyphs">informasi mengenai perkembangan harga barang dan jasa yang dikonsumsi oleh konsumen.</text>
</g>
<rect x="373" y="1026" width="757.500" height="57.700" rx="28.850" fill="#f87b06"/>
<text x="386" y="1064.900" font-size="28" font-weight="bold" fill="#ffffff" textLength="722" lengthAdjust="spacingAndGlyphs">Andil Inflasi Menurut Kelompok Pengeluaran M to M</text>

<g id="icons" fill="none" stroke="#2a8d8e" stroke-width="1.500" stroke-linecap="round" stroke-linejoin="round">
 <!-- 1 food -->
 <g transform="translate(220,1108.700)">
  <rect x="0.850" y="0.850" width="63.500" height="78.600" rx="24.500" ry="27.500" stroke="#3a7d63" stroke-width="1.700"/>
  <circle cx="15.37" cy="47.88" r="8.83"/>
  <path d="M 10.28,42.45 L 12.88,45.84 L 15.37,43.35 L 17.86,45.84 L 20.57,42.45 M 11.97,41.09 L 10.28,42.45 M 18.76,41.09 L 20.57,42.45 M 11.97,41.09 L 18.76,41.09" stroke-width="1.300"/>
  <path d="M 15.37,37.47 L 15.37,40.64" stroke-width="2.200"/>
  <path d="M 26.12,34.07 A 5.09,5.09 0 0 1 18.20,25.25 A 4.75,4.75 0 0 1 26.68,17.55 A 6.56,6.56 0 0 1 39.13,16.76 A 4.75,4.75 0 0 1 47.28,25.25 A 5.09,5.09 0 0 1 39.70,34.07 A 4.07,4.07 0 0 1 32.91,36.79 A 4.07,4.07 0 0 1 26.12,34.07 Z" fill="#ffffff"/>
  <path d="M 24.65,35.20 L 30.08,50.14 M 41.39,35.20 L 35.96,50.14 M 28.72,36.79 L 32.91,44.48 L 37.09,36.79 M 30.98,39.39 L 32.91,42.79 L 34.83,39.39"/>
  <path d="M 42.30,50.71 C 40.83,45.61 43.09,42.22 46.49,43.58 C 48.18,41.65 51.58,41.65 53.27,43.58 C 56.67,42.22 60.06,45.61 58.93,53.53 M 47.28,43.92 C 46.49,46.75 47.05,50.14 48.18,52.97 M 53.27,43.92 C 54.41,46.75 54.07,50.14 53.27,52.97 M 49.31,42.22 L 51.01,37.13 L 53.84,38.26 L 52.14,42.79"/>
  <path d="M 28.95,50.37 C 25.55,50.37 24.65,54.67 25.33,58.06 C 26.12,62.02 29.51,64.28 33.47,63.72 L 58.37,58.06 C 60.06,57.50 59.72,55.80 58.37,55.35 L 33.47,50.14 Z M 32.91,51.27 L 32.91,56.93 M 40.83,57.50 L 40.83,60.89 M 48.18,54.10 L 48.18,56.93" fill="#ffffff"/>
  <path d="M 25.10,54.67 Q 19.33,53.31 17.63,49.01 Q 22.72,50.14 25.10,54.67 Z M 24.65,56.93 Q 19.33,55.23 15.37,56.93 Q 19.33,58.97 24.65,56.93 Z M 25.33,59.19 Q 20.46,60.55 17.63,64.85 Q 23.29,63.72 25.33,59.19 Z" fill="#ffffff" stroke-width="1.300"/>
 </g>
 <!-- 2 clothes -->
 <g transform="translate(306.400,1108.700)">
  <rect x="0.850" y="0.850" width="63.500" height="78.600" rx="24.500" ry="27.500" stroke="#3a7d63" stroke-width="1.700"/>
  <g stroke-width="1.200">
  <path d="M23.500,17 L15.500,20.500 L8.200,30.500 L13,35 L18.500,30 L18.500,54.500 L29.500,54.500 M35.500,17 L43.500,20.500 L48.800,30.500 L44,35 L39,30.500 L39,41"/>
  <path d="M23.500,17 L26,15.500 L29.500,17.500 L33,15.500 L35.500,17 L32.500,23.500 L29.500,19 L26.500,23.500 Z M29.500,19 L29.500,30 M9.800,28.500 L14.800,33.200 M47,28.500 L42.500,33 M18.500,51 L29,51"/>
  <path d="M31,41.500 L50.600,41.500 L55.500,62.500 C52,65 49,61.500 45.500,63 C42,64.500 40,61.500 36.500,63 C33,64.500 30,62 25.800,63.500 Z M27,59 C31,57.500 33,60 36.500,58.500 C40,57 42,60 45.500,58.500 C49,57 51.500,59.500 54.500,58.500 M41,41.500 L41,49.500 L44.500,49.500 M30.500,44.500 L51.300,44.500"/>
  </g>
 </g>
 <!-- 3 housing water electricity -->
 <g transform="translate(402.900,1108.700)">
  <rect x="0.850" y="0.850" width="63.500" height="78.600" rx="24.500" ry="27.500" stroke="#3a7d63" stroke-width="1.700"/>
  <path d="M 18.58,14.85 C 15.01,21.22 8.39,28.22 8.39,33.94 C 8.39,40.31 13.10,44.51 19.47,44.13 C 21.63,43.87 23.54,42.86 24.82,41.71 M 18.58,14.85 C 21.38,19.94 26.47,26.94 29.02,31.02" stroke-width="1.700"/>
  <path d="M 33.09,16.12 C 30.93,19.94 29.27,21.60 29.27,23.38 A 3.82,3.82 0 0 0 36.91,23.38 C 36.91,21.60 35.38,19.94 33.09,16.12 Z" stroke-width="1.500"/>
  <circle cx="42.13" cy="53.68" r="16.29" fill="#ffffff" stroke-width="1.400"/>
  <path d="M 17.56,33.31 C 19.47,31.02 22.02,31.02 23.92,33.05 C 25.83,35.22 28.38,35.22 30.29,33.05 C 31.82,31.40 34.11,31.02 36.02,32.67 L 50.66,33.05 L 38.56,28.47 M 17.56,38.40 C 19.47,36.11 22.02,36.11 23.92,38.15 C 25.83,40.31 28.38,40.31 30.29,38.15 C 31.82,36.49 34.74,36.11 37.29,38.66" stroke-width="1.600"/>
  <path d="M48.37,42.60 L35.13,51.13 L39.96,54.69 L36.27,65.13 L49.38,55.97 L44.55,52.40 Z" fill="#2a8d8e" stroke-width="0.600"/>
 </g>
 <!-- 4 appliances -->
 <g transform="translate(499,1108.500)" stroke-width="1.700">
  <rect x="0.850" y="0.850" width="63.500" height="78.600" rx="24.500" ry="27.500" stroke="#3a7d63" stroke-width="1.700"/>
  <path d="M18.500,29.500 L18.500,16.500 Q18.500,15 20,15 L46,15 Q47.500,15 47.500,16.500 L47.500,43.500 M18.500,19.500 L28,19.500 L30,16.500 L47.500,16.500 M37.500,33 L47.500,33 M43,22 L43,26 M43,37 L43,41.500"/>
  <rect x="8.600" y="29.600" width="28.600" height="33.400" rx="1.500"/>
  <path d="M8.600,35.500 L37.200,35.500 M11.500,32.600 L13,32.600 M17,32.600 L26,32.600 M12.500,59.500 L30,59.500"/>
  <circle cx="22.500" cy="49.300" r="6.900"/>
  <path d="M19,46 A5.500,5.500 0 0 0 21.500,54.500"/>
  <rect x="32.800" y="43.900" width="24.500" height="19.100" rx="1.500" fill="#ffffff"/>
  <rect x="36.600" y="48" width="11.200" height="11" />
  <path d="M51.500,49.500 L54,49.500 M51.500,53.500 L54,53.500 M51.500,57.500 L54,57.500"/>
 </g>
 <!-- 5 health -->
 <g transform="translate(585.400,1104.200)" stroke-width="1.200">
  <rect x="0.850" y="0.850" width="63.500" height="78.600" rx="24.500" ry="27.500" stroke="#3a7d63" stroke-width="1.700"/>
  <path d="M33,24.500 C30,18.500 21,18 18.500,24.500 C16,32 24,39 33,46 C42,39 50,32 47.500,24.500 C45,18 36,18.500 33,24.500 Z"/>
  <path d="M17.500,32 L22,32 L24,28.500 L26.500,36.500 L29.500,29 L32,34.500 L34.500,30 L36.500,33.500 L39.500,29 L41,32 L44,30.500"/>
  <path d="M41.200,22.500 L41.200,28.700 M38.100,25.600 L44.300,25.600" stroke="#bf9bbb" stroke-width="2.200"/>
  <path d="M12,29 C10.500,29 10.500,31 10.800,33 L12.500,46 C13,49 15.500,51.500 19.500,54.800 L30,55.200 C31,50 28,46.500 23,42 L19.500,37.500 C18,36 16.500,37.500 17.500,39.500 L21,45 M12,29 C13.500,29 14,30.500 14.200,32.500 L15.500,40.500"/>
  <path d="M54,29 C55.500,29 55.500,31 55.200,33 L53.500,46 C53,49 50.500,51.500 46.500,54.800 L36,55.200 C35,50 38,46.500 43,42 L46.500,37.500 C48,36 49.500,37.500 48.500,39.500 L45,45 M54,29 C52.500,29 52,30.500 51.800,32.500 L50.500,40.500"/>
  <rect x="18.700" y="54.800" width="12.400" height="5.700" rx="1.500" transform="rotate(4 25 57.500)"/>
  <rect x="34.900" y="54.800" width="12.400" height="5.700" rx="1.500" transform="rotate(-4 41 57.500)"/>
  <circle cx="21.500" cy="57.400" r="1" fill="#bf9bbb" stroke="#bf9bbb"/><circle cx="44.500" cy="57.400" r="1" fill="#bf9bbb" stroke="#bf9bbb"/>
 </g>
 <!-- 6 transport -->
 <g transform="translate(677.600,1104.200)">
  <rect x="0.850" y="0.850" width="63.500" height="78.600" rx="24.500" ry="27.500" stroke="#3a7d63" stroke-width="1.700"/>
  <path d="M32,45.500 L13.500,45.500 Q11.500,45.500 11.500,43.500 L11.500,20 Q11.500,17.600 14,17.600 L37,17.600 Q39.100,17.600 39.100,20 L39.100,27 M15.500,21.200 L35.500,21.200 M11.500,24.500 L39,24.500 M11.500,36 L32,36 M8.200,22 L8.200,28 M9.500,19.500 L9.500,22 M21,40 L28.500,40 M21,42.500 L28.500,42.500 M21,37.800 L28.500,37.800" />
  <circle cx="16" cy="40.500" r="1.300" fill="#2a8d8e"/>
  <path d="M14.500,45.500 L14.500,48 Q14.500,49.500 16.500,49.500 Q18.500,49.500 18.500,48 L18.500,45.500"/>
  <rect x="32.500" y="27.500" width="20.400" height="24.500" rx="3" fill="#ffffff"/>
  <circle cx="42.700" cy="27" r="2"  fill="#ffffff"/>
  <path d="M32.500,31.500 L52.900,31.500 M32.500,42 L52.900,42 M42.700,31.500 L42.700,42 M39,45.500 L46.500,45.500 M39,48 L46.500,48 M36.500,52 L32,62.500 M49,52 L53.500,62.500 M35,55.500 L50.500,55.500 M33.500,59 L52,59"/>
  <circle cx="36" cy="46.700" r="1.100" fill="#2a8d8e"/><circle cx="49.500" cy="46.700" r="1.100" fill="#2a8d8e"/>
 </g>
</g>

<g id="icons2" fill="none" stroke="#2a8d8e" stroke-width="1.500" stroke-linecap="round" stroke-linejoin="round">
 <!-- 7 info comm finance -->
 <g transform="translate(772.900,1104.500)" stroke-width="1.300">
  <rect x="0.850" y="0.850" width="63.500" height="78.600" rx="24.500" ry="27.500" stroke="#3a7d63" stroke-width="1.700"/>
  <path d="M13.500,21 C9.500,27 9.500,34 13.500,40 M18,24 C15.500,28 15.500,33 18,37" stroke-width="2"/>
  <path d="M36.500,21 C40.500,27 40.500,34 36.500,40 M32,24 C34.500,28 34.500,33 32,37" stroke-width="2"/>
  <circle cx="24.800" cy="30" r="3.400" fill="#2a8d8e"/>
  <path d="M21,36.500 L38.500,24.500 L58.200,33.500 L58.200,37 L38.500,28 L26,37 Z"/>
  <path d="M28,35 L28,37.500 M31,34 L31,37.500 M33.500,34.500 L36,37.500 L38.500,34.500 L41,37.500 L43,34.500"/>
  <path d="M24.500,39.500 L55.500,39.500 L54,42 L26,42 Z"/>
  <path d="M27.500,42 L27.500,59 M30.500,42 L30.500,59 M49.500,42 L49.500,59 M52.500,42 L52.500,59 M25.500,59 L32.500,59 M47.500,59 L54.500,59 M24,61.500 L56,61.500 M21.500,64 L58.500,64 M25.500,59 L24,61.500 M54.500,59 L56,61.500"/>
  <path d="M35.500,59 L35.500,50.500 C35.500,44.500 44.500,44.500 44.500,50.500 L44.500,59 M35.500,50.500 L44.500,50.500 M40,46 L40,59 M38.500,54.500 L41.500,54.500"/>
 </g>
 <!-- 8 recreation sport culture -->
 <g transform="translate(864.600,1104.500)" stroke-width="1.600">
  <rect x="0.850" y="0.850" width="63.500" height="78.600" rx="24.500" ry="27.500" stroke="#3a7d63" stroke-width="1.700"/>
  <circle cx="17.800" cy="61.500" r="4.900"/>
  <path d="M14,58.500 C16.500,59.500 18.500,62 18.500,66 M17,57 C19.500,58.500 21.500,61 22,64"/>
  <circle cx="22" cy="24.800" r="3"/>
  <path d="M10.500,22.500 L17,30.500 L18.500,39 L22.500,39 M33.500,20 L26.500,30 L26,36 M10.500,22.500 L12.500,21 L18.500,28.500 L25.500,28.500 L31.500,19 L33.500,20"/>
  <circle cx="32.100" cy="32.800" r="3.400"/>
  <path d="M16.500,40 L27.500,39.500 L31,37.500 L36.500,37.500 L41,40.500 L46,34 L48.500,36 L42.500,44.500 L38.500,43 L38.500,50 L36.500,66.500 L32.500,66.500 L32,55 L30.500,52 L27.500,60 L23.500,58 L27.500,48.500 L27.500,43 L17.500,43.500 Z"/>
  <circle cx="48.700" cy="25.400" r="3"/>
  <path d="M38,27 L44.500,29.500 L45.500,35 M59.500,19.500 L54.500,28.500 L52.500,36.500 L55.500,44 L53,45.500 L49,39.500 L46,44 L40.500,52 L38.500,50.500 M38,27 L39,25 L45.500,27.500 L52,28 L57.500,18.500 L59.500,19.500"/>
  <ellipse cx="43" cy="15.300" rx="4.800" ry="2.800" transform="rotate(25 43 15.300)"/>
  <path d="M47,17.500 L57.500,23"/>
 </g>
 <!-- 9 education -->
 <g transform="translate(956.800,1104.500)">
  <rect x="0.850" y="0.850" width="63.500" height="78.600" rx="24.500" ry="27.500" stroke="#3a7d63" stroke-width="1.700"/>
  <path d="M12.800,24.800 L32.300,19.100 L51.900,24.800 L32.300,30.600 Z"/>
  <path d="M19.100,27 L19.100,36.300 C26,39.500 38.500,39.500 45.300,36.300 L45.300,27"/>
  <path d="M50,25 L50,35.500 M48.300,35.500 L51.700,35.500 L52.700,42.500 L50,41 L47.300,42.500 Z"/>
  <path d="M32.300,56.500 C26,50 16,46 8,44.900 L10.500,54 M32.300,56.500 C38.500,50 48.500,46 56.700,44.900 L54,54"/>
  <path d="M10.500,48.500 C18,49.500 27,53 32.300,57.500 C37.500,53 46.500,49.500 54,48.500 M11.500,52 C19,53 27.500,55.500 32.300,58.500 C37,55.500 45.500,53 53,52"/>
  <path d="M7.500,56.300 L28.500,57.500 L30,59.500 L34.500,59.500 L36,57.500 L57,56.300"/>
 </g>
 <!-- 10 restaurant -->
 <g transform="translate(1055.500,1104)" stroke-width="1.800">
  <rect x="0.850" y="0.850" width="63.500" height="78.600" rx="24.500" ry="27.500" stroke="#3a7d63" stroke-width="1.700"/>
  <path d="M9.400,25.400 L9.400,36 Q9.400,38.800 13.700,38.800 Q18.100,38.800 18.100,36 L18.100,25.400 M13.700,25.400 L13.700,57"/>
  <circle cx="33.200" cy="39.700" r="10.900"/>
  <path d="M20.500,27 A18.100,18.100 0 0 1 46,27 M17.500,48.500 A18.100,18.100 0 0 0 49,48.500"/>
  <path d="M51.500,57 L51.500,26 C55.500,27 56.700,33 56.700,45.500 L51.500,45.500"/>
 </g>
 <!-- 11 personal care -->
 <g transform="translate(1146.200,1104)">
  <rect x="0.850" y="0.850" width="63.500" height="78.600" rx="24.500" ry="27.500" stroke="#3a7d63" stroke-width="1.700"/>
  <path d="M21,38 L24.500,25.500 L8,25.500 Q8,40 12.500,55.500 L12.500,61.500 L18.500,61.500 M12.500,55.500 L18.500,55.500 M14.500,58.500 L18.500,58.500"/>
  <circle cx="34.400" cy="23.500" r="5.400"/>
  <path d="M31.500,28 L32.300,37 M37.300,28 L36.500,36 M32,32 L37,32 M34.400,28.500 L34.400,32"/>
  <path d="M22.500,45 L22.500,41 Q22.500,39.700 24,39.700 L34.500,39.700 M21.400,48 Q21.400,45 24,45 L34,45 M21.400,48 L21.400,59.500 Q21.400,61.700 24,61.700 L34,61.700 M25,51 L33.500,51 M25,51 L25,57 L33.500,57"/>
  <path d="M40.500,32 L40.500,37 M37.500,32 L46,32 L47,34 M38.500,37 L42.800,37 L42.800,40 C46,42 47.200,45 47.200,49 L47.200,58 Q47.200,60.700 44.500,60.700 L38,60.700 Q35.500,60.700 35.500,58 L35.500,49 C35.500,45 36,42 38.500,40 Z"/>
  <path d="M49,61.300 L49,46.500 L56,46.500 L56,61.300 Z M49,57.500 L56,57.500 M50.200,46.500 L50.200,41 L54.800,37 L54.800,46.500"/>
 </g>
</g>

<g id="iconlabels" font-size="11.600" fill="#161616" text-anchor="middle">
<g transform="translate(253 0) scale(1.055 1)">
<text x="0" y="1207.7">Makanan,</text>
<text x="0" y="1223.5">Minuman,</text>
<text x="0" y="1239.5">dan</text>
<text x="0" y="1255.4">Tembakau</text>
</g>
<g transform="translate(343.7 0) scale(1.055 1)">
<text x="0" y="1207.7">Pakaian dan</text>
<text x="0" y="1223.5">Alas Kaki</text>
</g>
<g transform="translate(433 0) scale(1.055 1)">
<text x="0" y="1207.7">Perumahan,</text>
<text x="0" y="1223.5">Air, Listrik,</text>
<text x="0" y="1239.5">dan Bahan</text>
<text x="0" y="1255.4">Bakar Rumah</text>
<text x="0" y="1271.5">Tangga</text>
</g>
<g transform="translate(533.5 0) scale(1.055 1)">
<text x="0" y="1207.7">Perlengkapan,</text>
<text x="0" y="1223.5">Peralatan, dan</text>
<text x="0" y="1239.5">Pemeliharaan</text>
<text x="0" y="1255.4">Rutin Rumah</text>
<text x="0" y="1271.5">Tangga</text>
</g>
<g transform="translate(620.7 0) scale(1.055 1)">
<text x="0" y="1209.6">Kesehatan</text>
</g>
<g transform="translate(713.3 0) scale(1.055 1)">
<text x="0" y="1207.7">Transportasi</text>
</g>
<g transform="translate(809.2 0) scale(1.055 1)">
<text x="0" y="1206.7">Informasi,</text>
<text x="0" y="1222.6">Komunikasi,</text>
<text x="0" y="1238.6">dan Jasa</text>
<text x="0" y="1254.8">Keuangan</text>
</g>
<g transform="translate(902.2 0) scale(1.055 1)">
<text x="0" y="1204.8">Rekreasi,</text>
<text x="0" y="1220.6">Olahraga,</text>
<text x="0" y="1235.9">dan Budaya</text>
</g>
<g transform="translate(990.5 0) scale(1.055 1)">
<text x="0" y="1207.7">Pendidikan</text>
</g>
<g transform="translate(1090.7 0) scale(1.055 1)">
<text x="0" y="1207.7">Penyediaan</text>
<text x="0" y="1223.5">Makanan dan</text>
<text x="0" y="1239.5">Minuman/</text>
<text x="0" y="1255.8">Restoran</text>
</g>
<g transform="translate(1183.5 0) scale(1.055 1)">
<text x="0" y="1204.8">Perawatan</text>
<text x="0" y="1220.6">Pribadi dan</text>
<text x="0" y="1235.9">Jasa</text>
<text x="0" y="1252">Lainnya</text>
</g>
</g>
<g id="barchart">
<rect x="226.800" y="1304.200" width="991.500" height="1.200" fill="#ececec"/>
<rect x="226.800" y="1409.7" width="991.500" height="1.200" fill="#c9c9c9"/>
<rect x="226.800" y="1462.3" width="991.500" height="1.200" fill="#c9c9c9"/>
<rect x="226.800" y="1515.600" width="991.500" height="1.200" fill="#e6e6e6"/>
<path d="M226.8,1357.3 V1314.0 Q226.8,1309.0 231.8,1309.0 H303.4 Q308.4,1309.0 308.4,1314.0 V1357.3 Z" fill="#397a62"/>
<path d="M499.9,1357.3 V1357.0 Q499.9,1356.0 500.9,1356.0 H580.5 Q581.5,1356.0 581.5,1357.0 V1357.3 Z" fill="#397a62"/>
<path d="M682.0,1357.3 V1356.8 Q682.0,1354.3 684.5,1354.3 H761.1 Q763.6,1354.3 763.6,1356.8 V1357.3 Z" fill="#397a62"/>
<path d="M1046.2,1357.3 V1356.3 Q1046.2,1353.3 1049.2,1353.3 H1124.8 Q1127.8,1353.3 1127.8,1356.3 V1357.3 Z" fill="#397a62"/>
<path d="M1137.3,1357.3 V1355.9 Q1137.3,1351.9 1141.3,1351.9 H1214.9 Q1218.9,1351.9 1218.9,1355.9 V1357.3 Z" fill="#397a62"/>
<path d="M408.9,1357.3 V1489.0 Q408.9,1494.0 413.9,1494.0 H485.5 Q490.5,1494.0 490.5,1489.0 V1357.3 Z" fill="#397a62"/>
<rect x="226.800" y="1356.6" width="991.500" height="1.500" fill="#8a8a8a"/>
<text x="236.0" y="1338.9" font-size="24.6" font-weight="bold" fill="#ffffff" textLength="62.5" lengthAdjust="spacingAndGlyphs">0,46</text>
<text x="416.0" y="1478.3" font-size="25.6" font-weight="bold" fill="#ffffff" textLength="68.4" lengthAdjust="spacingAndGlyphs">-1,29</text>
<text x="510.0" y="1339.4" font-size="26" font-weight="bold" fill="#0c0c0c" textLength="60.0" lengthAdjust="spacingAndGlyphs">0,01</text>
<text x="692.3" y="1337.5" font-size="26" font-weight="bold" fill="#0c0c0c" textLength="61.0" lengthAdjust="spacingAndGlyphs">0,03</text>
<text x="1054.8" y="1337.2" font-size="26" font-weight="bold" fill="#0c0c0c" textLength="62.7" lengthAdjust="spacingAndGlyphs">0,04</text>
<text x="1146.7" y="1335.8" font-size="26" font-weight="bold" fill="#0c0c0c" textLength="61.9" lengthAdjust="spacingAndGlyphs">0,05</text>
<text x="333.5" y="1345.300" font-size="17" font-weight="bold" fill="#0c0c0c" stroke="#0c0c0c" stroke-width="0.500" textLength="10" lengthAdjust="spacingAndGlyphs">~</text>
<text x="344.5" y="1347.400" font-size="22.300" font-weight="bold" fill="#0c0c0c" textLength="16.2" lengthAdjust="spacingAndGlyphs">0</text>
<text x="613.3" y="1345.300" font-size="17" font-weight="bold" fill="#0c0c0c" stroke="#0c0c0c" stroke-width="0.500" textLength="10" lengthAdjust="spacingAndGlyphs">~</text>
<text x="624.3" y="1347.400" font-size="22.300" font-weight="bold" fill="#0c0c0c" textLength="15.2" lengthAdjust="spacingAndGlyphs">0</text>
<text x="807.9" y="1345.300" font-size="17" font-weight="bold" fill="#0c0c0c" stroke="#0c0c0c" stroke-width="0.500" textLength="10" lengthAdjust="spacingAndGlyphs">~</text>
<text x="818.9" y="1347.400" font-size="22.300" font-weight="bold" fill="#0c0c0c" textLength="15.1" lengthAdjust="spacingAndGlyphs">0</text>
<text x="894.4" y="1345.300" font-size="17" font-weight="bold" fill="#0c0c0c" stroke="#0c0c0c" stroke-width="0.500" textLength="10" lengthAdjust="spacingAndGlyphs">~</text>
<text x="905.4" y="1347.400" font-size="22.300" font-weight="bold" fill="#0c0c0c" textLength="15.6" lengthAdjust="spacingAndGlyphs">0</text>
<text x="978.8" y="1345.300" font-size="17" font-weight="bold" fill="#0c0c0c" stroke="#0c0c0c" stroke-width="0.500" textLength="10" lengthAdjust="spacingAndGlyphs">~</text>
<text x="989.8" y="1347.400" font-size="22.300" font-weight="bold" fill="#0c0c0c" textLength="15.3" lengthAdjust="spacingAndGlyphs">0</text>
</g>
<g id="bottom">
<path d="M449.400,1494 V1616" stroke="#000" stroke-width="7" stroke-dasharray="6.700 8" stroke-dashoffset="-13.700" fill="none"/>
<path d="M438.600,1612 L449.300,1626.300 L460,1612" stroke="#000" stroke-width="6.200" stroke-linecap="round" stroke-linejoin="round" fill="none"/>
<polygon points="507,1604 488.700,1635.700 508.900,1637.500 520.900,1653.500 543,1617" fill="#1f8a8b"/>
<polygon points="514,1611 499,1636.600 508.900,1637.500 514.500,1645 532,1617" fill="#187478"/>
<polygon points="577.900,1604 595,1635.700 575.100,1637.500 563.200,1653.500 541,1617" fill="#1f8a8b"/>
<polygon points="571,1611 585.500,1636.600 575.100,1637.500 569.500,1645 552,1617" fill="#187478"/>
<defs>
 <linearGradient id="goldO" x1="0" y1="0" x2="1" y2="1"><stop offset="0" stop-color="#e8d88e"/><stop offset="0.35" stop-color="#d6bf62"/><stop offset="0.6" stop-color="#ead98c"/><stop offset="1" stop-color="#cdb455"/></linearGradient>
 <linearGradient id="goldI" x1="0" y1="0" x2="0" y2="1"><stop offset="0" stop-color="#f6edc0"/><stop offset="0.22" stop-color="#f7efc6"/><stop offset="0.4" stop-color="#ecdf9e"/><stop offset="0.52" stop-color="#e4d488"/><stop offset="0.6" stop-color="#d5d3ae"/><stop offset="0.7" stop-color="#cfd0b4"/><stop offset="0.8" stop-color="#e6d994"/><stop offset="1" stop-color="#f0e5b0"/></linearGradient>
</defs>
<polygon points="593.4,1570.0 592.2,1572.6 589.8,1575.0 588.4,1577.4 589.0,1580.0 590.6,1583.0 590.9,1585.9 589.0,1588.0 585.9,1589.6 583.9,1591.3 583.7,1594.0 584.2,1597.4 583.6,1600.2 581.1,1601.7 577.7,1602.2 575.2,1603.2 574.2,1605.7 573.7,1609.1 572.2,1611.6 569.4,1612.2 566.0,1611.7 563.3,1611.9 561.6,1613.9 560.0,1617.0 557.9,1618.9 555.0,1618.6 552.0,1617.0 549.4,1616.4 547.0,1617.8 544.6,1620.2 542.0,1621.4 539.4,1620.2 537.0,1617.8 534.6,1616.4 532.0,1617.0 529.0,1618.6 526.1,1618.9 524.0,1617.0 522.4,1613.9 520.7,1611.9 518.0,1611.7 514.6,1612.2 511.8,1611.6 510.3,1609.1 509.8,1605.7 508.8,1603.2 506.3,1602.2 502.9,1601.7 500.4,1600.2 499.8,1597.4 500.3,1594.0 500.1,1591.3 498.1,1589.6 495.0,1588.0 493.1,1585.9 493.4,1583.0 495.0,1580.0 495.6,1577.4 494.2,1575.0 491.8,1572.6 490.6,1570.0 491.8,1567.4 494.2,1565.0 495.6,1562.6 495.0,1560.0 493.4,1557.0 493.1,1554.1 495.0,1552.0 498.1,1550.4 500.1,1548.7 500.3,1546.0 499.8,1542.6 500.4,1539.8 502.9,1538.3 506.3,1537.8 508.8,1536.8 509.8,1534.3 510.3,1530.9 511.8,1528.4 514.6,1527.8 517.9,1528.3 520.7,1528.1 522.4,1526.1 524.0,1523.0 526.1,1521.1 529.0,1521.4 532.0,1523.0 534.6,1523.6 537.0,1522.2 539.4,1519.8 542.0,1518.6 544.6,1519.8 547.0,1522.2 549.4,1523.6 552.0,1523.0 555.0,1521.4 557.9,1521.1 560.0,1523.0 561.6,1526.1 563.3,1528.1 566.1,1528.3 569.4,1527.8 572.2,1528.4 573.7,1530.9 574.2,1534.3 575.2,1536.8 577.7,1537.8 581.1,1538.3 583.6,1539.8 584.2,1542.6 583.7,1546.0 583.9,1548.7 585.9,1550.4 589.0,1552.0 590.9,1554.1 590.6,1557.0 589.0,1560.0 588.4,1562.6 589.8,1565.0 592.2,1567.4 593.4,1570.0" fill="url(#goldO)"/>
<circle cx="542" cy="1570" r="41.500" fill="none" stroke="#c5aa4e" stroke-width="3.500" opacity="0.8"/>
<circle cx="542" cy="1570" r="38" fill="url(#goldI)" stroke="#efe2a6" stroke-width="1.500"/>
<g font-weight="bold" fill="#3a7d63" stroke="#f7f3dc" stroke-width="0.500" paint-order="stroke"><text x="523.500" y="1566.200" font-size="18" textLength="37" lengthAdjust="spacingAndGlyphs">Tarif</text><text x="517.800" y="1584.600" font-size="18" textLength="48.200" lengthAdjust="spacingAndGlyphs">Listrik</text></g>
<path d="M417,1619.500 L461.500,1693.500 L372.500,1693.500 Z" fill="#ffee1a" stroke="#ffee1a" stroke-width="5" stroke-linejoin="round"/>
<path d="M417,1626 L456,1691 L378,1691 Z" fill="#ffee1a" stroke="#0a0a0a" stroke-width="5.200" stroke-linejoin="round"/>
<polygon points="415.5,1645.6 421.4,1644.7 418.5,1659.6 424.4,1658.1 419.2,1675.6 421.6,1675.0 416.3,1684.4 413.3,1676.2 415.9,1676.2 419.2,1664.0 409.3,1667.7" fill="#0a0a0a"/>
<ellipse cx="481.500" cy="1676.500" rx="25.500" ry="24.500" fill="#1a1a1a" opacity="0.6" filter="url(#blur3)"/><ellipse cx="438" cy="1694.500" rx="12" ry="9" fill="#1a1a1a" opacity="0.45" filter="url(#blur3)" transform="rotate(-25 438 1694)"/>
<defs><radialGradient id="bulbG" cx="0.5" cy="0.45" r="0.55"><stop offset="0" stop-color="#ffffff"/><stop offset="0.6" stop-color="#fffdf6"/><stop offset="0.85" stop-color="#f5ead2"/><stop offset="1" stop-color="#d9c49c"/></radialGradient>
<linearGradient id="baseG" x1="0" y1="0" x2="0" y2="1"><stop offset="0" stop-color="#9a9a9a"/><stop offset="0.35" stop-color="#d0d0d0"/><stop offset="0.7" stop-color="#4a4a4a"/><stop offset="1" stop-color="#1c1c1c"/></linearGradient></defs>
<g transform="rotate(-25.500 477.700 1672)">
<path d="M443,1663 C449,1661 453,1656 458,1652.500 C464,1648 472,1646.300 479,1646.300 C493,1646.300 503.400,1657.800 503.400,1672 C503.400,1686.200 493,1697.700 479,1697.700 C472,1697.700 464,1696 458,1691.500 C453,1688 449,1683 443,1681 Z" fill="url(#bulbG)" stroke="#d3bd92" stroke-width="1.100"/>
<path d="M462,1660 C468,1655 478,1653 486,1656" fill="none" stroke="#e6d3ad" stroke-width="1.200" opacity="0.8"/>
<path d="M443,1662.500 L422,1664.500 Q418,1672 422,1679.500 L443,1681.500 Z" fill="url(#baseG)"/>
<path d="M439.500,1663 V1681 M435,1663.400 V1680.600 M430.500,1663.800 V1680.200 M426,1664.200 V1679.800" stroke="#262626" stroke-width="1.300" fill="none"/>
<path d="M422,1666.500 Q416.500,1672 422,1677.500 Z" fill="#141414"/>
</g>
<path d="M614,2000 V1583 A12.450,12.450 0 0 1 638.900,1583 V2000 Z" fill="#3e7b66"/>
<path d="M646.700,1576.700 C670,1583 700,1588 740,1585.500 C790,1582 850,1563 900,1557 C940,1553 980,1560 1010.800,1574 L1010.800,1802 C980,1788 940,1781 900,1784.500 C850,1790 790,1807 740,1810.500 C700,1813 670,1808.500 646.700,1803 Z" fill="#3e7b66"/>
<g font-weight="bold" fill="#fdfdf6" font-size="18.600" stroke="#fdfdf6" stroke-width="0.450" paint-order="stroke">
<text x="657" y="1612.2" textLength="267.6" lengthAdjust="spacingAndGlyphs">Perumahan, Air, Listrik, dan</text>
<text x="657" y="1637" textLength="271.3" lengthAdjust="spacingAndGlyphs">Bahan Bakar Rumah Tangga</text>
<text x="657" y="1661.4" textLength="312.4" lengthAdjust="spacingAndGlyphs">menjadi penyebab utama Deflasi</text>
<text x="657" y="1685.3" textLength="243.3" lengthAdjust="spacingAndGlyphs">Januari 2025. Komoditas</text>
<text x="657" y="1710.5" textLength="317.4" lengthAdjust="spacingAndGlyphs">Dominan yang memberikan andil</text>
<text x="657" y="1734.500" textLength="48.800" lengthAdjust="spacingAndGlyphs">yaitu</text>
<text x="711" y="1734.500" fill="#f6e53e" stroke="#f6e53e" textLength="104.600" lengthAdjust="spacingAndGlyphs">Tarif Listrik</text>
<text x="821.600" y="1734.500" textLength="124.700" lengthAdjust="spacingAndGlyphs">dengan andil</text>
<text x="660" y="1785.800" font-size="51.500" textLength="162" lengthAdjust="spacingAndGlyphs" xml:space="preserve">1,37 %</text>
</g>
<path d="M0,1870.400 H820 A46.150,46.150 0 0 1 820,1962.700 H0 Z" fill="#f87b06"/>
<g fill="#fff1e2" font-size="21.300"><text x="38" y="1908.700" textLength="778.500" lengthAdjust="spacingAndGlyphs">Sumber: Berita Resmi Statistik BPS Kota Kediri, Perkembangan Indeks Harga</text>
<text x="38" y="1937.600" textLength="776.500" lengthAdjust="spacingAndGlyphs">Konsumen Kota Kediri Januari 2025 : No. 09/02/Th. XXVIII, 03 Februari 2025</text></g>
</g>
</svg>
</body></html>
